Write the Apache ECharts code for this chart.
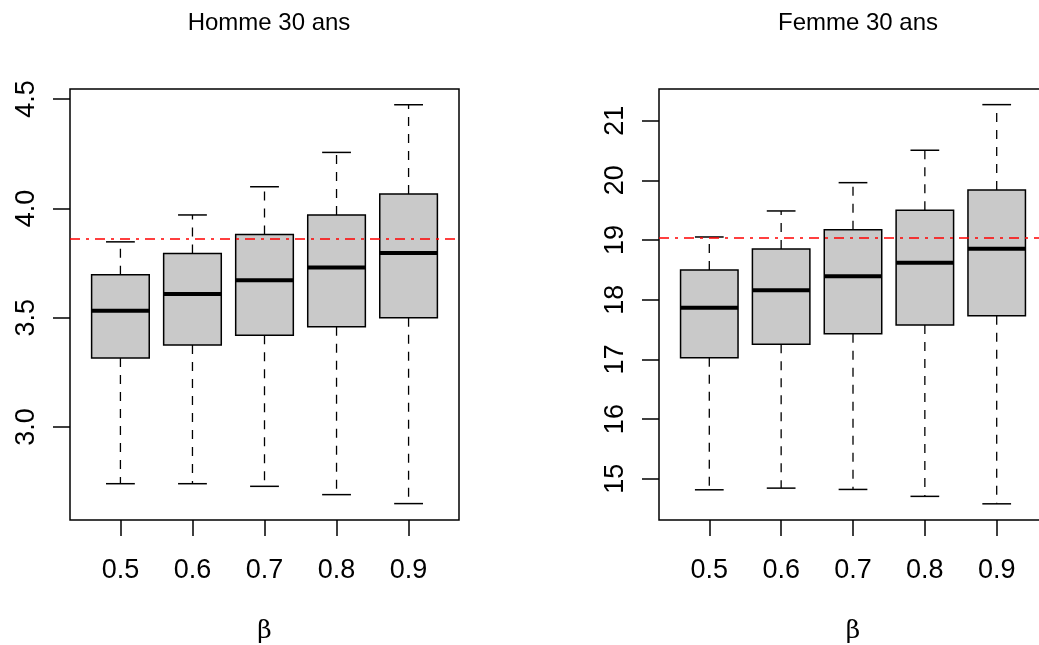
<!DOCTYPE html>
<html>
<head>
<meta charset="utf-8">
<script src="https://cdn.jsdelivr.net/npm/echarts@6/dist/echarts.min.js"></script>
<style>
  html, body { margin: 0; padding: 0; background: #fff; }
  #chart { width: 1039px; height: 645px; }
</style>
</head>
<body>
<div id="chart"></div>
<script>
// ---- data ----
const categories = ['0.5', '0.6', '0.7', '0.8', '0.9'];
const titles = ['Homme 30 ans', 'Femme 30 ans'];
const xName = 'β';

const hommeLow  = [2.741, 2.741, 2.729, 2.691, 2.650];
const hommeQ1   = [3.316, 3.375, 3.420, 3.459, 3.500];
const hommeMed  = [3.532, 3.608, 3.671, 3.730, 3.796];
const hommeQ3   = [3.697, 3.794, 3.881, 3.970, 4.066];
const hommeHigh = [3.847, 3.970, 4.099, 4.256, 4.474];
const hommeRef  = 3.857;
const hommeTicks = [3.0, 3.5, 4.0, 4.5];

const femmeLow  = [14.816, 14.844, 14.822, 14.706, 14.581];
const femmeQ1   = [17.028, 17.253, 17.430, 17.576, 17.732];
const femmeMed  = [17.866, 18.158, 18.392, 18.620, 18.855];
const femmeQ3   = [18.498, 18.850, 19.173, 19.498, 19.839];
const femmeHigh = [19.051, 19.487, 19.961, 20.504, 21.268];
const femmeRef  = 19.034;
const femmeTicks = [15, 16, 17, 18, 19, 20, 21];

// ---- build ----
const FONT = '"Liberation Sans", Arial, Helvetica, sans-serif';
const positions = categories.map((c, i) => i + 1);

function buildData(low, q1, med, q3, high) {
  return positions.map((p, i) => [p, low[i], q1[i], med[i], q3[i], high[i]]);
}

function renderBox(params, api) {
  const x = api.value(0);
  const pLow = api.coord([x, api.value(1)]);
  const pQ1 = api.coord([x, api.value(2)]);
  const pMed = api.coord([x, api.value(3)]);
  const pQ3 = api.coord([x, api.value(4)]);
  const pHigh = api.coord([x, api.value(5)]);
  const halfW = api.size([0.4, 0])[0];
  const capHalf = api.size([0.2, 0])[0];
  const cx = pMed[0];
  const dashStyle = { stroke: '#000', lineWidth: 1.3, lineDash: [9, 8] };
  const solid = { stroke: '#000', lineWidth: 1.5 };
  return {
    type: 'group',
    children: [
      { type: 'line', shape: { x1: cx, y1: pQ1[1], x2: cx, y2: pLow[1] }, style: dashStyle },
      { type: 'line', shape: { x1: cx, y1: pQ3[1], x2: cx, y2: pHigh[1] }, style: dashStyle },
      { type: 'line', shape: { x1: cx - capHalf, y1: pLow[1], x2: cx + capHalf, y2: pLow[1] }, style: solid },
      { type: 'line', shape: { x1: cx - capHalf, y1: pHigh[1], x2: cx + capHalf, y2: pHigh[1] }, style: solid },
      { type: 'rect', shape: { x: cx - halfW, y: pQ3[1], width: 2 * halfW, height: pQ1[1] - pQ3[1] },
        style: { fill: '#c9c9c9', stroke: '#000', lineWidth: 1.5 } },
      { type: 'line', shape: { x1: cx - halfW, y1: pMed[1], x2: cx + halfW, y2: pMed[1] },
        style: { stroke: '#000', lineWidth: 4 } }
    ]
  };
}

function xAxisDef(idx) {
  return {
    gridIndex: idx, type: 'value', min: 0.3, max: 5.7,
    axisLine: { show: false }, splitLine: { show: false },
    axisTick: { show: true, customValues: positions, length: 16, lineStyle: { color: '#000', width: 1.5 } },
    axisLabel: { show: true, customValues: positions, margin: 37, color: '#000', fontSize: 27, fontFamily: FONT,
      formatter: v => categories[Math.round(v) - 1] },
    name: xName, nameLocation: 'middle', nameGap: 99,
    nameTextStyle: { color: '#000', fontSize: 25, fontFamily: '"DejaVu Serif", "Liberation Serif", serif' }
  };
}

function yAxisDef(idx, min, max, ticks, digits) {
  return {
    gridIndex: idx, type: 'value', min: min, max: max,
    axisLine: { show: false }, splitLine: { show: false },
    axisTick: { show: true, customValues: ticks, length: 17, lineStyle: { color: '#000', width: 1.5 } },
    axisLabel: { show: true, customValues: ticks, rotate: 90, margin: 30, color: '#000', fontSize: 27, fontFamily: FONT,
      formatter: v => Number(v).toFixed(digits) }
  };
}

function refLine(v) {
  return {
    silent: true, symbol: ['none', 'none'], animation: false,
    label: { show: false },
    lineStyle: { color: '#ff0000', type: [10, 6, 3, 6], width: 1.5 },
    data: [{ yAxis: v }]
  };
}

const gridBase = { top: 89, height: 431, show: true, borderColor: '#000', borderWidth: 1.5,
  backgroundColor: 'transparent', containLabel: false, outerBoundsMode: 'none' };

const option = {
  animation: false,
  backgroundColor: '#fff',
  title: [
    { text: titles[0], left: 264, top: 6, textAlign: 'center',
      textStyle: { color: '#000', fontSize: 24, fontWeight: 'normal', fontFamily: FONT } },
    { text: titles[1], left: 853, top: 6, textAlign: 'center',
      textStyle: { color: '#000', fontSize: 24, fontWeight: 'normal', fontFamily: FONT } }
  ],
  grid: [
    Object.assign({ left: 70, width: 389 }, gridBase),
    Object.assign({ left: 659, width: 388 }, gridBase)
  ],
  xAxis: [xAxisDef(0), xAxisDef(1)],
  yAxis: [
    yAxisDef(0, 2.575, 4.546, hommeTicks, 1),
    yAxisDef(1, 14.31, 21.53, femmeTicks, 0)
  ],
  series: [
    { type: 'custom', xAxisIndex: 0, yAxisIndex: 0, renderItem: renderBox,
      encode: { x: 0, y: [1, 2, 3, 4, 5] },
      data: buildData(hommeLow, hommeQ1, hommeMed, hommeQ3, hommeHigh),
      markLine: refLine(hommeRef), z: 2 },
    { type: 'custom', xAxisIndex: 1, yAxisIndex: 1, renderItem: renderBox,
      encode: { x: 0, y: [1, 2, 3, 4, 5] },
      data: buildData(femmeLow, femmeQ1, femmeMed, femmeQ3, femmeHigh),
      markLine: refLine(femmeRef), z: 2 }
  ]
};

const chart = echarts.init(document.getElementById('chart'), null, { renderer: 'canvas' });
chart.setOption(option);
</script>
</body>
</html>
